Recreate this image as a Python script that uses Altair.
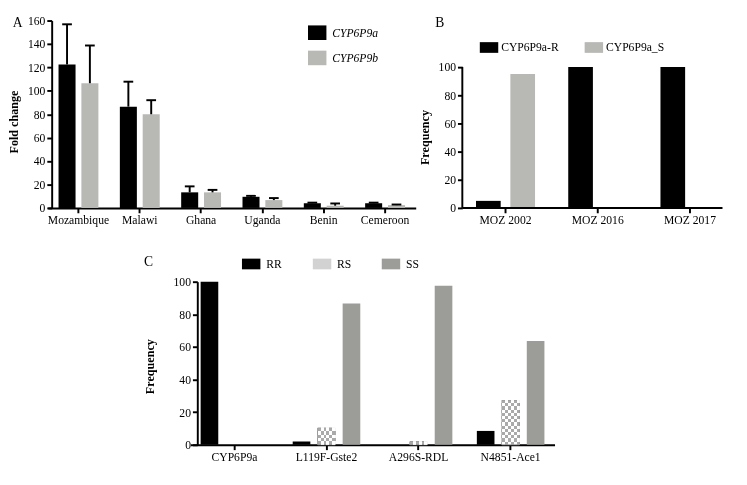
import altair as alt
import pandas as pd

FONT = "Liberation Serif"
BLACK = "#000000"
LIGHT = "#b8b9b4"
MID = "#9c9d98"
CHECK = "#d2d2d2"
CHECK_DARK = "#aaaaaa"

# ---------------- Panel A data ----------------
countries = ["Mozambique", "Malawi", "Ghana", "Uganda", "Benin", "Cemeroon"]
genes_a = ["CYP6P9a", "CYP6P9b"]
fold_9a = [122.5, 86.5, 13.3, 9.5, 4.0, 4.0]
fold_9a_upper = [156.8, 107.8, 18.4, 10.3, 4.5, 4.5]
fold_9b = [106.5, 80.0, 13.3, 6.7, 1.9, 2.4]
fold_9b_upper = [138.7, 92.0, 15.4, 8.4, 3.8, 2.9]
ticks_a = [0, 20, 40, 60, 80, 100, 120, 140, 160]

# ---------------- Panel B data ----------------
years_b = ["MOZ 2002", "MOZ 2016", "MOZ 2017"]
alleles_b = ["CYP6P9a-R", "CYP6P9a_S"]
freq_r = [5, 100, 100]
freq_s = [95, 0, 0]
ticks_b = [0, 20, 40, 60, 80, 100]

# ---------------- Panel C data ----------------
markers_c = ["CYP6P9a", "L119F-Gste2", "A296S-RDL", "N4851-Ace1"]
genotypes_c = ["RR", "RS", "SS"]
freq_rr = [100, 2, 0, 8.5]
freq_rs = [0, 10.4, 2, 27.4]
freq_ss = [0, 86.7, 97.5, 63.6]
ticks_c = [0, 20, 40, 60, 80, 100]

RECT_A = "M-1,-0.79H1V0.79H-1Z"
RECT_B = "M-1,-0.58H1V0.58H-1Z"

W_A, H_TOP = 379, 193
W_B = 268
H_C = 168
ROW_GAP = 76
C_SHIFT = 147  # panel C plot starts this far right of panel A's left edge
CELL = 3.2     # size of the checker cells of the RS bars, px


def axis_x(**kw):
    return alt.Axis(labelAngle=0, domainWidth=2, domainColor=BLACK, tickWidth=2,
                    tickSize=5, tickColor=BLACK, labelFontSize=12, labelPadding=2,
                    title=None, grid=False, labelFont=FONT, labelColor=BLACK,
                    labelOverlap=False, **kw)


def axis_y(**kw):
    return alt.Axis(domainWidth=2, domainColor=BLACK, tickWidth=2, tickSize=5,
                    tickColor=BLACK, labelFontSize=12, labelPadding=2, grid=False,
                    titleFontWeight="bold", titleFontSize=12.5, titleFont=FONT,
                    labelFont=FONT, labelColor=BLACK, titleColor=BLACK,
                    labelOverlap=False, **kw)


def panel_label(letter, x, y):
    return alt.Chart(pd.DataFrame({"t": [letter]})).mark_text(
        align="left", baseline="middle", fontSize=14, font=FONT, color=BLACK
    ).encode(text="t:N", x=alt.value(x), y=alt.value(y))


def stripes(n, across):
    stops = []
    for k in range(n):
        c = "#000000" if k % 2 == 0 else "#ffffff"
        stops.append(alt.GradientStop(color=c, offset=k / n))
        stops.append(alt.GradientStop(color=c, offset=(k + 1) / n))
    if across:
        return alt.LinearGradient(gradient="linear", stops=stops, x1=0, x2=1, y1=0, y2=0)
    return alt.LinearGradient(gradient="linear", stops=stops, x1=0, x2=0, y1=0, y2=1)


# ---------------- Panel A ----------------
df_a = pd.DataFrame({
    "country": countries * 2,
    "gene": [genes_a[0]] * len(countries) + [genes_a[1]] * len(countries),
    "fold": fold_9a + fold_9b,
    "upper": fold_9a_upper + fold_9b_upper,
})

x_a = alt.X("country:N", sort=countries,
            scale=alt.Scale(type="band", paddingInner=0.35, paddingOuter=0.175),
            axis=axis_x())
xo_a = alt.XOffset("gene:N", sort=genes_a,
                   scale=alt.Scale(type="band", paddingInner=0.255, paddingOuter=0))
y_axis_a = axis_y(values=ticks_a, title="Fold change", offset=-4, titlePadding=7,
                  titleY=104)
y_scale_a = alt.Scale(domain=[0, 160], nice=False)

bars_a = alt.Chart(df_a).mark_bar().encode(
    x=x_a, xOffset=xo_a,
    y=alt.Y("fold:Q", scale=y_scale_a, axis=y_axis_a),
    color=alt.Color("gene:N", sort=genes_a,
                    scale=alt.Scale(domain=genes_a, range=[BLACK, LIGHT]),
                    legend=alt.Legend(orient="none", legendX=268, legendY=3,
                                      direction="vertical", title=None,
                                      symbolType=RECT_A, symbolSize=361,
                                      symbolStrokeWidth=0, labelFontStyle="italic",
                                      labelFontSize=12, labelFont=FONT, labelColor=BLACK,
                                      labelOffset=6, rowPadding=8)),
)
err_a = alt.Chart(df_a).mark_rule(color=BLACK, strokeWidth=2).encode(
    x=x_a, xOffset=xo_a,
    y=alt.Y("upper:Q", scale=y_scale_a, axis=y_axis_a), y2="fold:Q")
cap_a = alt.Chart(df_a).mark_tick(color=BLACK, thickness=2, size=10, opacity=1).encode(
    x=x_a, xOffset=xo_a, y=alt.Y("upper:Q", scale=y_scale_a, axis=y_axis_a))

panel_a = alt.layer(bars_a, err_a, cap_a, panel_label("A", -36, 3)).properties(
    width=W_A, height=H_TOP)

# ---------------- Panel B ----------------
df_b = pd.DataFrame({
    "year": years_b * 2,
    "allele": [alleles_b[0]] * 3 + [alleles_b[1]] * 3,
    "freq": freq_r + freq_s,
})
x_b = alt.X("year:N", sort=years_b,
            scale=alt.Scale(type="band", range=[-3, 282], paddingInner=0.36,
                            paddingOuter=0.18),
            axis=axis_x(domain=False))
xo_b = alt.XOffset("allele:N", sort=alleles_b,
                   scale=alt.Scale(type="band", paddingInner=0.282, paddingOuter=0))
y_scale_b = alt.Scale(domain=[0, 133], nice=False)
y_axis_b = axis_y(values=ticks_b, domain=False, title="Frequency", titlePadding=7,
                  titleY=120)
bars_b = alt.Chart(df_b).mark_bar().encode(
    x=x_b, xOffset=xo_b,
    y=alt.Y("freq:Q", scale=y_scale_b, axis=y_axis_b),
    color=alt.Color("allele:N", sort=alleles_b,
                    scale=alt.Scale(domain=alleles_b, range=[BLACK, LIGHT]),
                    legend=alt.Legend(orient="none", legendX=18, legendY=18,
                                      direction="horizontal", title=None,
                                      symbolType=RECT_B, symbolSize=361,
                                      symbolStrokeWidth=0, labelFontSize=12,
                                      labelFont=FONT, labelColor=BLACK,
                                      labelOffset=3, columnPadding=26)),
)
df_b_axis = pd.DataFrame({"lo": [ticks_b[0]], "hi": [ticks_b[-1]]})
yline_b = alt.Chart(df_b_axis).mark_rule(color=BLACK, strokeWidth=2).encode(
    x=alt.value(0), y=alt.Y("lo:Q", scale=y_scale_b, axis=y_axis_b), y2="hi:Q")
xline_b = alt.Chart(df_b_axis).mark_rule(color=BLACK, strokeWidth=2).encode(
    x=alt.value(0), x2=alt.value(W_B),
    y=alt.Y("lo:Q", scale=y_scale_b, axis=y_axis_b))

panel_b = alt.layer(bars_b, yline_b, xline_b, panel_label("B", -28, 3)).properties(
    width=W_B, height=H_TOP)

# ---------------- Panel C ----------------
df_c = pd.DataFrame({
    "marker": markers_c * 3,
    "genotype": [g for g in genotypes_c for _ in markers_c],
    "freq": freq_rr + freq_rs + freq_ss,
})
x_c = alt.X("marker:N", sort=markers_c,
            scale=alt.Scale(type="band", range=[C_SHIFT, C_SHIFT + 375],
                            paddingInner=0.266, paddingOuter=0.11),
            axis=axis_x())
xo_c = alt.XOffset("genotype:N", sort=genotypes_c,
                   scale=alt.Scale(type="band", paddingInner=0.294, paddingOuter=0))
y_scale_c = alt.Scale(domain=[0, 100], nice=False)
y_axis_c = axis_y(values=ticks_c, title="Frequency", offset=-(C_SHIFT + 7),
                  titlePadding=17, titleY=87)
y_c = alt.Y("freq:Q", scale=y_scale_c, axis=y_axis_c)

bars_c = alt.Chart(df_c).mark_bar().encode(
    x=x_c, xOffset=xo_c, y=y_c,
    color=alt.Color("genotype:N", sort=genotypes_c,
                    scale=alt.Scale(domain=genotypes_c, range=[BLACK, CHECK, MID]),
                    legend=alt.Legend(orient="none", legendX=C_SHIFT + 53, legendY=-28,
                                      direction="horizontal", title=None,
                                      symbolType=RECT_B, symbolSize=361,
                                      symbolStrokeWidth=0, labelFontSize=12,
                                      labelFont=FONT, labelColor=BLACK,
                                      labelOffset=6, columnPadding=31)),
)

# checker texture for the heterozygote (RS) bars
texture_layers = []
for m, v in zip(markers_c, freq_rs):
    if v <= 0:
        continue
    n_rows = max(1, round(v * H_C / 100 / CELL))
    sel = alt.Chart(df_c).transform_filter(
        (alt.datum.genotype == "RS") & (alt.datum.marker == m))
    texture_layers.append(sel.mark_bar(fill=stripes(6, True)).encode(
        x=x_c, xOffset=xo_c, y=y_c))
    texture_layers.append(sel.mark_bar(fill=stripes(n_rows, False), blend="difference")
                          .encode(x=x_c, xOffset=xo_c, y=y_c))
    texture_layers.append(sel.mark_bar(fill=CHECK_DARK, blend="lighten",
                                       stroke="#a0a0a0", strokeWidth=0.8)
                          .encode(x=x_c, xOffset=xo_c, y=y_c))

panel_c = alt.layer(bars_c, *texture_layers, panel_label("C", C_SHIFT - 48, -20)).properties(
    width=W_A, height=H_C)

chart = alt.concat(
    panel_a, panel_b, panel_c,
    columns=2,
    spacing={"row": ROW_GAP, "column": 48},
    bounds="flush",
).resolve_scale(
    color="independent", xOffset="independent", x="independent", y="independent"
).properties(
    padding=0, background="white"
).configure(font=FONT).configure_view(stroke=None)

chart.save("out.html", embed_options={"renderer": "svg", "actions": False})
